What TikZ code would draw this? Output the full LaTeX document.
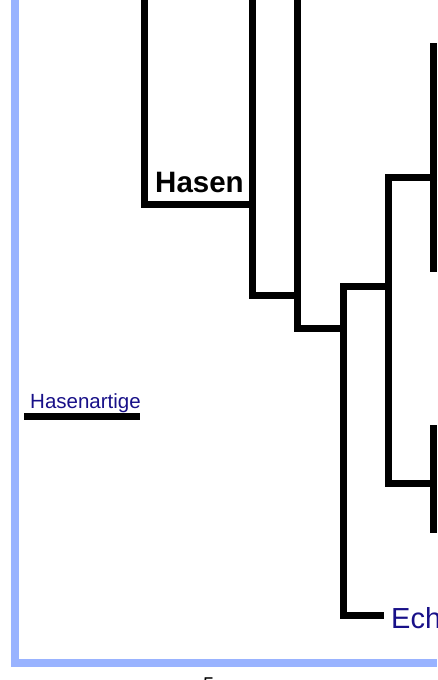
\documentclass[tikz,border=0pt]{standalone}
\usepackage{fontspec}
\setmainfont{Liberation Sans}
\usepackage{tikz}
\usetikzlibrary{positioning}

\definecolor{rahmenblau}{RGB}{153,179,255}
\definecolor{textblau}{RGB}{24,16,136}

\begin{document}
\begin{tikzpicture}[x=1pt, y=-1pt, ast/.style = {line width=7pt, line join=miter}, rahmen/.style = {line width=8pt, draw=rahmenblau}, taxon/.style = {anchor=base west, inner sep=0pt, text=textblau}]
            \useasboundingbox (0,0) rectangle (437,680);
            \draw[rahmen] (15,0) |- (437,663);
            % Aeste
            \coordinate (a1) at (144,0);
            \coordinate (a2) at (252,204);
            \coordinate (b1) at (252,0);
            \coordinate (b2) at (297,295);
            \coordinate (c1) at (297,0);
            \coordinate (c2) at (343.5,328.5);
            \coordinate (d1) at (388.5,286.5);
            \coordinate (d2) at (343.5,615.5);
            \coordinate (d3) at (384,615.5);
            \coordinate (e1) at (437,177.5);
            \coordinate (e2) at (388.5,483.5);
            \coordinate (e3) at (433.5,483.5);
            \coordinate (f1) at (433.5,43);
            \coordinate (f2) at (433.5,272);
            \coordinate (g1) at (433.5,425);
            \coordinate (g2) at (433.5,533);
            \coordinate (h1) at (24,416.5);
            \coordinate (h2) at (140,416.5);
            \draw[ast] (a1) |- (a2);
            \draw[ast] (b1) |- (b2);
            \draw[ast] (c1) |- (c2);
            \draw[ast] (d1) -| (d2) -- (d3);
            \draw[ast] (e1) -| (e2) -- (e3);
            \draw[ast] (f1) -- (f2);
            \draw[ast] (g1) -- (g2);
            \draw[ast] (h1) -- (h2);
            % Namen
            \node[taxon, text=black, font=\bfseries\fontsize{29.5}{36}\selectfont](hasen) at (155,192){Hasen};
            \node[taxon, font=\fontsize{20.5}{24}\selectfont](hasenartige) at (30,408){Hasenartige};
            \node[taxon, font=\fontsize{29}{34}\selectfont](ech) at (391,628){Ech};
            \node[taxon, text=black, font=\fontsize{20}{24}\selectfont](seite) at (203,691.5){5};
        \end{tikzpicture}
\end{document}
